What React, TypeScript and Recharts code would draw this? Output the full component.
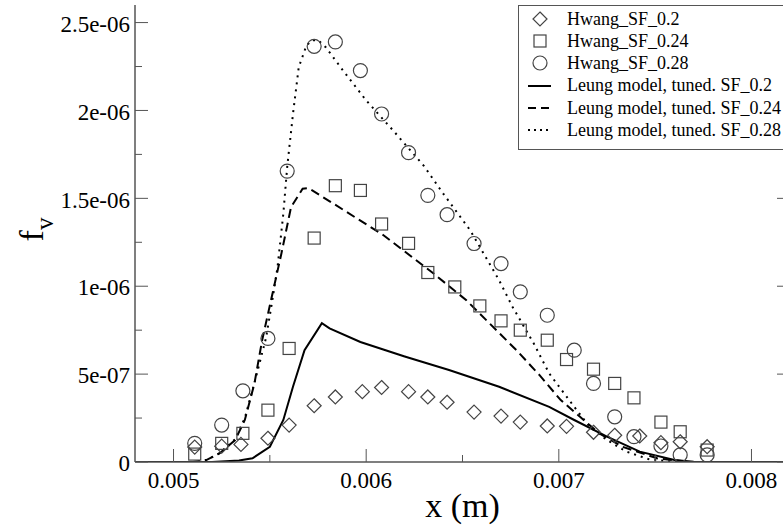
import { ComposedChart, Line, Scatter, XAxis, YAxis, Legend } from 'recharts';

const FONT = '"Liberation Serif", "Times New Roman", serif';
const AXIS_COLOR = '#555';
const MARK_COLOR = '#444';

// axis ticks (major ones carry a label, minor ones an empty string)
const xTicks = [0.005, 0.0055, 0.006, 0.0065, 0.007, 0.0075, 0.008];
const xTickLabels = ['0.005', '', '0.006', '', '0.007', '', '0.008'];
const yTicks = [0, 2.5e-7, 5e-7, 7.5e-7, 1e-6, 1.25e-6, 1.5e-6, 1.75e-6, 2e-6, 2.25e-6, 2.5e-6];
const yTickLabels = ['0', '', '5e-07', '', '1e-06', '', '1.5e-06', '', '2e-06', '', '2.5e-06'];

// Hwang measurements
const hwang02X = [0.00511, 0.00525, 0.00535, 0.00549, 0.0056, 0.00573, 0.00584, 0.00598, 0.00608, 0.00622, 0.00632, 0.00642, 0.00656, 0.0067, 0.0068, 0.00694, 0.00704, 0.00718, 0.00729, 0.00742, 0.00753, 0.00763, 0.00777];
const hwang02Y = [0.085, 0.09, 0.1, 0.135, 0.21, 0.32, 0.37, 0.4, 0.424, 0.4, 0.37, 0.34, 0.284, 0.261, 0.227, 0.205, 0.203, 0.169, 0.152, 0.148, 0.11, 0.115, 0.087];

const hwang024X = [0.00511, 0.00525, 0.00536, 0.00549, 0.0056, 0.00573, 0.00584, 0.00597, 0.00608, 0.00622, 0.00632, 0.00646, 0.00659, 0.0067, 0.0068, 0.00694, 0.00704, 0.00718, 0.00729, 0.00739, 0.00753, 0.00763, 0.00777];
const hwang024Y = [0.045, 0.106, 0.163, 0.295, 0.646, 1.274, 1.572, 1.545, 1.354, 1.244, 1.078, 0.996, 0.888, 0.803, 0.75, 0.693, 0.583, 0.528, 0.447, 0.365, 0.227, 0.172, 0.068];

const hwang028X = [0.00511, 0.00525, 0.00536, 0.00549, 0.00559, 0.00573, 0.00584, 0.00597, 0.00608, 0.00622, 0.00632, 0.00642, 0.00656, 0.0067, 0.0068, 0.00694, 0.00708, 0.00718, 0.00729, 0.00739, 0.00753, 0.00763, 0.00777];
const hwang028Y = [0.106, 0.21, 0.405, 0.703, 1.655, 2.365, 2.39, 2.227, 1.98, 1.76, 1.517, 1.407, 1.243, 1.129, 0.968, 0.835, 0.636, 0.447, 0.257, 0.144, 0.091, 0.04, 0.04];

// Leung model curves
const leung02X = [0.0048, 0.0052, 0.00534, 0.00541, 0.0055, 0.00557, 0.00562, 0.00568, 0.00577, 0.00581, 0.00597, 0.0062, 0.00643, 0.00669, 0.00695, 0.00708, 0.00725, 0.00742, 0.0076, 0.0077, 0.0082];
const leung02Y = [0, 0, 0.008, 0.021, 0.087, 0.239, 0.428, 0.636, 0.79, 0.76, 0.683, 0.6, 0.523, 0.428, 0.314, 0.239, 0.144, 0.059, 0.011, 0.002, 0];

const leung024X = [0.0048, 0.0051, 0.00517, 0.00524, 0.00532, 0.00537, 0.00542, 0.00546, 0.00551, 0.00556, 0.00561, 0.00567, 0.0057, 0.00572, 0.00583, 0.00609, 0.00635, 0.00652, 0.00678, 0.0069, 0.00701, 0.00711, 0.00721, 0.00733, 0.00751, 0.00768, 0.0082];
const leung024Y = [0, 0, 0.011, 0.05, 0.125, 0.239, 0.447, 0.693, 0.94, 1.186, 1.45, 1.555, 1.558, 1.545, 1.47, 1.29, 1.072, 0.92, 0.636, 0.494, 0.352, 0.257, 0.163, 0.087, 0.021, 0, 0];

const leung028X = [0.0048, 0.0051, 0.00517, 0.00524, 0.00532, 0.00537, 0.00542, 0.00548, 0.00551, 0.00554, 0.00557, 0.00559, 0.00562, 0.00565, 0.00569, 0.00572, 0.00575, 0.00579, 0.00588, 0.006, 0.00614, 0.0063, 0.0064, 0.00654, 0.00664, 0.00669, 0.00676, 0.00687, 0.00695, 0.00708, 0.00716, 0.00725, 0.00735, 0.00747, 0.0076, 0.0082];
const leung028Y = [0, 0, 0.011, 0.05, 0.13, 0.25, 0.45, 0.705, 0.9, 1.11, 1.413, 1.678, 1.98, 2.246, 2.37, 2.4, 2.4, 2.36, 2.227, 2.057, 1.886, 1.684, 1.527, 1.318, 1.129, 1.034, 0.882, 0.674, 0.504, 0.314, 0.2, 0.125, 0.059, 0.015, 0, 0];

const legendLabels = [
  'Hwang_SF_0.2',
  'Hwang_SF_0.24',
  'Hwang_SF_0.28',
  'Leung model, tuned. SF_0.2',
  'Leung model, tuned. SF_0.24',
  'Leung model, tuned. SF_0.28',
];

const toPoints = (xs: number[], ys: number[]) => xs.map((x, i) => ({ x, y: ys[i] * 1e-6 }));

function Diamond({ cx, cy }: any) {
  return <polygon points={`${cx},${cy - 7} ${cx + 7},${cy} ${cx},${cy + 7} ${cx - 7},${cy}`} fill="none" stroke={MARK_COLOR} strokeWidth={1.2} />;
}
function Square({ cx, cy }: any) {
  return <rect x={cx - 6} y={cy - 6} width={12} height={12} fill="none" stroke={MARK_COLOR} strokeWidth={1.2} />;
}
function Circle({ cx, cy }: any) {
  return <circle cx={cx} cy={cy} r={7} fill="none" stroke={MARK_COLOR} strokeWidth={1.2} />;
}

const tickLen = (label: string) => (label ? 13 : 7);

function BottomTick({ x, y, index }: any) {
  const label = xTickLabels[index];
  return (
    <g>
      <line x1={x} x2={x} y1={y} y2={y - tickLen(label)} stroke={AXIS_COLOR} />
      {label && (
        <text x={x} y={y + 10} dy="0.71em" textAnchor="middle" fontFamily={FONT} fontSize={23} fill="#000">
          {label}
        </text>
      )}
    </g>
  );
}
function TopTick({ x, y, index }: any) {
  return <line x1={x} x2={x} y1={y} y2={y + tickLen(xTickLabels[index])} stroke={AXIS_COLOR} />;
}
function LeftTick({ x, y, index }: any) {
  const label = yTickLabels[index];
  return (
    <g>
      <line x1={x} x2={x + tickLen(label)} y1={y} y2={y} stroke={AXIS_COLOR} />
      {label && (
        <text x={x - 5} y={y} dy="0.4em" textAnchor="end" fontFamily={FONT} fontSize={23} fill="#000">
          {label}
        </text>
      )}
    </g>
  );
}
function RightTick({ x, y, index }: any) {
  return <line x1={x} x2={x - tickLen(yTickLabels[index])} y1={y} y2={y} stroke={AXIS_COLOR} />;
}

function XLabel({ viewBox }: any) {
  return (
    <text x={viewBox.x + viewBox.width / 2} y={viewBox.y + 55} textAnchor="middle" fontFamily={FONT} fontSize={34} fill="#000">
      x (m)
    </text>
  );
}
function YLabel({ viewBox }: any) {
  const cx = viewBox.x + 43;
  const cy = viewBox.y + viewBox.height / 2 - 4;
  return (
    <text x={cx} y={cy} transform={`rotate(-90 ${cx} ${cy})`} textAnchor="middle" fontFamily={FONT} fontSize={34} fill="#000">
      f<tspan fontSize={25} dy={10}>v</tspan>
    </text>
  );
}

function LegendSymbol({ index }: { index: number }) {
  if (index === 0) return <Diamond cx={15} cy={11} />;
  if (index === 1) return <Square cx={15} cy={11} />;
  if (index === 2) return <Circle cx={15} cy={11} />;
  const dash = index === 4 ? '8 5' : index === 5 ? '2 4' : undefined;
  return <line x1={3} x2={26} y1={11} y2={11} stroke="#000" strokeWidth={2} strokeDasharray={dash} />;
}

function renderLegend() {
  return (
    <div
      style={{
        border: `1px solid ${AXIS_COLOR}`,
        background: '#fff',
        padding: '1.5px 0 8px 6px',
        fontFamily: FONT,
        fontSize: 18,
        lineHeight: '22.3px',
        color: '#000',
        boxSizing: 'border-box',
      }}
    >
      {legendLabels.map((label, i) => (
        <div key={label} style={{ display: 'flex', alignItems: 'center', height: 22.3, whiteSpace: 'nowrap' }}>
          <svg width={30} height={22} style={{ marginRight: 12, flex: 'none' }}>
            <LegendSymbol index={i} />
          </svg>
          <span>{label}</span>
        </div>
      ))}
    </div>
  );
}

export default function App() {
  return (
    <div style={{ position: 'absolute', left: 0, top: 0, width: 783, height: 527, overflow: 'hidden', background: '#fff' }}>
      <ComposedChart width={800} height={527} margin={{ top: 5, right: 0, bottom: 0, left: 0 }}>
        <XAxis
          dataKey="x"
          type="number"
          domain={[0.0048, 0.0082]}
          allowDataOverflow
          ticks={xTicks}
          interval={0}
          height={65}
          tickSize={0}
          tickMargin={0}
          tickLine={false}
          tick={(p: any) => <BottomTick {...p} />}
          axisLine={{ stroke: AXIS_COLOR, strokeWidth: 1.5 }}
          label={(p: any) => <XLabel {...p} />}
        />
        <XAxis
          xAxisId="top"
          orientation="top"
          dataKey="x"
          type="number"
          domain={[0.0048, 0.0082]}
          allowDataOverflow
          ticks={xTicks}
          interval={0}
          height={0}
          tickSize={0}
          tickMargin={0}
          tickLine={false}
          tick={(p: any) => <TopTick {...p} />}
          axisLine={{ stroke: AXIS_COLOR, strokeWidth: 1.5 }}
        />
        <YAxis
          type="number"
          domain={[0, 2.6e-6]}
          allowDataOverflow
          ticks={yTicks}
          interval={0}
          width={135}
          tickSize={0}
          tickMargin={0}
          tickLine={false}
          tick={(p: any) => <LeftTick {...p} />}
          axisLine={{ stroke: AXIS_COLOR, strokeWidth: 1.5 }}
          label={(p: any) => <YLabel {...p} />}
        />
        <YAxis
          yAxisId="right"
          orientation="right"
          type="number"
          domain={[0, 2.6e-6]}
          allowDataOverflow
          ticks={yTicks}
          interval={0}
          width={10}
          tickSize={0}
          tickMargin={0}
          tickLine={false}
          tick={(p: any) => <RightTick {...p} />}
          axisLine={{ stroke: AXIS_COLOR, strokeWidth: 1.5 }}
        />

        <Line data={toPoints(leung02X, leung02Y)} dataKey="y" name={legendLabels[3]} type="linear" stroke="#000" strokeWidth={2} dot={false} isAnimationActive={false} />
        <Line data={toPoints(leung024X, leung024Y)} dataKey="y" name={legendLabels[4]} type="linear" stroke="#000" strokeWidth={2} strokeDasharray="9 5" dot={false} isAnimationActive={false} />
        <Line data={toPoints(leung028X, leung028Y)} dataKey="y" name={legendLabels[5]} type="linear" stroke="#000" strokeWidth={2} strokeDasharray="2 5" dot={false} isAnimationActive={false} />

        <Scatter data={toPoints(hwang02X, hwang02Y)} dataKey="y" name={legendLabels[0]} shape={(p: any) => <Diamond {...p} />} isAnimationActive={false} />
        <Scatter data={toPoints(hwang024X, hwang024Y)} dataKey="y" name={legendLabels[1]} shape={(p: any) => <Square {...p} />} isAnimationActive={false} />
        <Scatter data={toPoints(hwang028X, hwang028Y)} dataKey="y" name={legendLabels[2]} shape={(p: any) => <Circle {...p} />} isAnimationActive={false} />

        <Legend
          layout="vertical"
          align="center"
          verticalAlign="middle"
          content={renderLegend}
          wrapperStyle={{ top: 5, left: 518, width: 285 }}
        />
      </ComposedChart>
    </div>
  );
}
